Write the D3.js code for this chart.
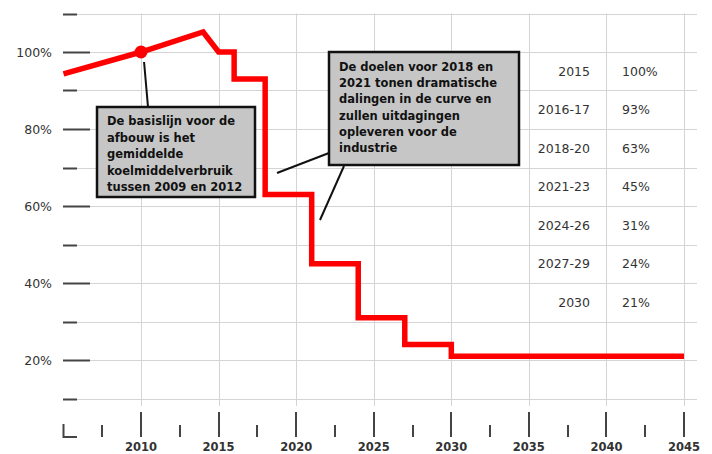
<!DOCTYPE html>
<html>
<head>
<meta charset="utf-8">
<script src="https://cdn.jsdelivr.net/npm/d3@7"></script>
<style>
  body { margin: 0; background: #fff; }
  svg { display: block; font-family: "DejaVu Sans", Verdana, sans-serif; }
  .grid { stroke: #d4d4d4; stroke-width: 1; }
  .tick-mark { stroke: #444; stroke-width: 2; }
  .yLabel { font-size: 12.5px; fill: #333; text-anchor: end; }
  .xLabel { font-size: 11.5px; font-weight: bold; fill: #333; text-anchor: middle; }
  .note { font-size: 11.5px; font-weight: bold; fill: #111; }
  .tbl { font-size: 12.5px; fill: #333; }
</style>
</head>
<body>
<svg id="chart"></svg>
<script>
var width = 712;
var height = 454;

// baseline part of the curve (before the phase-down starts)
var baseYears = [2005, 2010, 2014];
var basePct = [94.3, 100, 105.2];

// phase-down steps
var phaseYears = [2015, 2016, 2018, 2021, 2024, 2027, 2030];
var phasePct = [100, 93, 63, 45, 31, 24, 21];
var endYear = 2045;

// table on the right
var tableYears = ["2015", "2016-17", "2018-20", "2021-23", "2024-26", "2027-29", "2030"];
var tablePct = ["100%", "93%", "63%", "45%", "31%", "24%", "21%"];

var yMajor = [20, 40, 60, 80, 100];
var yMinor = [10, 30, 50, 70, 90, 110];
var xMajor = [2010, 2015, 2020, 2025, 2030, 2035, 2040, 2045];
var xMinor = [2007.5, 2012.5, 2017.5, 2022.5, 2027.5, 2032.5, 2037.5, 2042.5];

var note1 = ["De basislijn voor de", "afbouw is het", "gemiddelde", "koelmiddelverbruik", "tussen 2009 en 2012"];
var note2 = ["De doelen voor 2018 en", "2021 tonen dramatische", "dalingen in de curve en", "zullen uitdagingen", "opleveren voor de", "industrie"];

var svg = d3.select("#chart")
    .attr("width", width)
    .attr("height", height);

var xScale = d3.scaleLinear().domain([2005, 2045]).range([63.5, 684]);
var yScale = d3.scaleLinear().domain([10, 110]).range([398.5, 13.5]);

// horizontal grid
svg.append("g").selectAll("line")
    .data(yMajor.concat(yMinor))
    .enter().append("line")
    .attr("class", "grid")
    .attr("x1", 63).attr("x2", 697)
    .attr("y1", function(d) { return Math.round(yScale(d)) + 0.5; })
    .attr("y2", function(d) { return Math.round(yScale(d)) + 0.5; });

// vertical grid
svg.append("g").selectAll("line")
    .data(xMajor)
    .enter().append("line")
    .attr("class", "grid")
    .attr("x1", function(d) { return Math.round(xScale(d)) + 0.5; })
    .attr("x2", function(d) { return Math.round(xScale(d)) + 0.5; })
    .attr("y1", yScale(110)).attr("y2", 406);

// y ticks
svg.append("g").selectAll("line")
    .data(yMajor)
    .enter().append("line")
    .attr("class", "tick-mark")
    .attr("x1", 63).attr("x2", 90)
    .attr("y1", function(d) { return Math.round(yScale(d)) + 0.5; })
    .attr("y2", function(d) { return Math.round(yScale(d)) + 0.5; });

svg.append("g").selectAll("line")
    .data(yMinor)
    .enter().append("line")
    .attr("class", "tick-mark")
    .attr("x1", 63).attr("x2", 77)
    .attr("y1", function(d) { return Math.round(yScale(d)) + 0.5; })
    .attr("y2", function(d) { return Math.round(yScale(d)) + 0.5; });

svg.append("g").selectAll("text")
    .data(yMajor)
    .enter().append("text")
    .attr("class", "yLabel")
    .attr("x", 52)
    .attr("y", function(d) { return yScale(d) + 4.5; })
    .text(function(d) { return d + "%"; });

// x ticks
svg.append("g").selectAll("line")
    .data(xMajor)
    .enter().append("line")
    .attr("class", "tick-mark")
    .attr("x1", function(d) { return Math.round(xScale(d)); })
    .attr("x2", function(d) { return Math.round(xScale(d)); })
    .attr("y1", 412).attr("y2", 437);

svg.append("g").selectAll("line")
    .data(xMinor)
    .enter().append("line")
    .attr("class", "tick-mark")
    .attr("x1", function(d) { return Math.round(xScale(d)); })
    .attr("x2", function(d) { return Math.round(xScale(d)); })
    .attr("y1", 425).attr("y2", 437);

// corner "L"
svg.append("path")
    .attr("class", "tick-mark")
    .attr("fill", "none")
    .attr("d", "M" + xScale(2005) + ",424V437H77");

svg.append("g").selectAll("text")
    .data(xMajor)
    .enter().append("text")
    .attr("class", "xLabel")
    .attr("x", function(d) { return xScale(d); })
    .attr("y", 451)
    .text(function(d) { return d; });

// table
svg.append("g").selectAll("text")
    .data(tableYears)
    .enter().append("text")
    .attr("class", "tbl")
    .attr("text-anchor", "end")
    .attr("x", 590)
    .attr("y", function(d, i) { return yScale(95 - 10 * i) + 4.5; })
    .text(function(d) { return d; });

svg.append("g").selectAll("text")
    .data(tablePct)
    .enter().append("text")
    .attr("class", "tbl")
    .attr("x", 622)
    .attr("y", function(d, i) { return yScale(95 - 10 * i) + 4.5; })
    .text(function(d) { return d; });

// red curve
var points = baseYears.map(function(yr, i) { return [yr, basePct[i]]; });
phaseYears.forEach(function(yr, i) {
    if (i > 0) points.push([yr, phasePct[i - 1]]);
    points.push([yr, phasePct[i]]);
});
points.push([endYear, phasePct[phasePct.length - 1]]);

var line = d3.line()
    .x(function(d) { return xScale(d[0]); })
    .y(function(d) { return yScale(d[1]); });

svg.append("path")
    .datum(points)
    .attr("fill", "none")
    .attr("stroke", "#f00")
    .attr("stroke-width", 5.5)
    .attr("stroke-linejoin", "miter")
    .attr("d", line);

svg.append("circle")
    .attr("cx", xScale(2010))
    .attr("cy", yScale(100))
    .attr("r", 6.5)
    .attr("fill", "#f00");

// callout connectors
var connectors = [
    [[xScale(2010) + 3, yScale(100) + 10], [148, 107]],
    [[329, 153], [277, 173]],
    [[344, 166], [320, 220]]
];
svg.append("g").selectAll("line")
    .data(connectors)
    .enter().append("line")
    .attr("stroke", "#111")
    .attr("stroke-width", 2)
    .attr("x1", function(d) { return d[0][0]; })
    .attr("y1", function(d) { return d[0][1]; })
    .attr("x2", function(d) { return d[1][0]; })
    .attr("y2", function(d) { return d[1][1]; });

function noteBox(x, y, w, h, lines, y0, dy) {
    var g = svg.append("g");
    g.append("rect")
        .attr("x", x).attr("y", y)
        .attr("width", w).attr("height", h)
        .attr("fill", "#c6c6c6")
        .attr("stroke", "#111")
        .attr("stroke-width", 2.5);
    g.selectAll("text")
        .data(lines)
        .enter().append("text")
        .attr("class", "note")
        .attr("x", x + 10)
        .attr("y", function(d, i) { return y0 + i * dy; })
        .text(function(d) { return d; });
}

noteBox(97, 107, 158, 90, note1, 125, 16.6);
noteBox(329, 52, 190, 113, note2, 71, 16.2);
</script>
</body>
</html>
